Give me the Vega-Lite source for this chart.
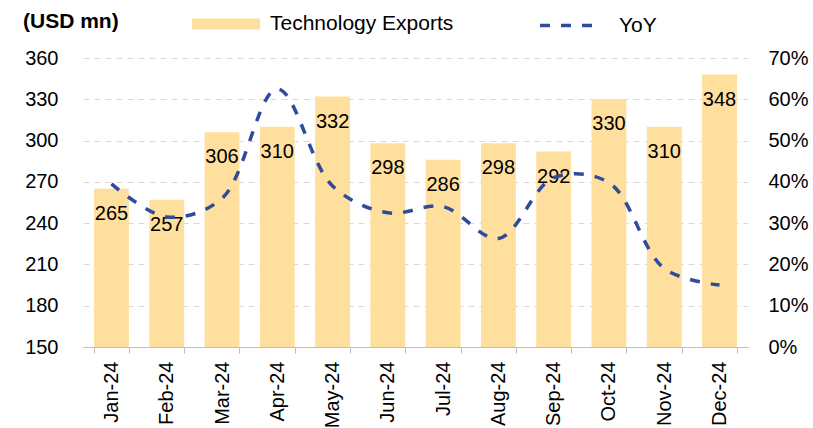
{
  "$schema": "https://vega.github.io/schema/vega-lite/v6.json",
  "width": 665,
  "height": 289,
  "autosize": {"type": "none"},
  "padding": {"left": 83, "top": 58, "right": 65, "bottom": 81},
  "background": "white",
  "config": {
    "font": "Liberation Sans",
    "view": {"stroke": null},
    "axis": {"labelFont": "Liberation Sans", "labelColor": "#000000", "labelFontSize": 20}
  },
  "title": {
    "text": "(USD mn)",
    "anchor": "start",
    "orient": "top",
    "frame": "group",
    "dx": -60,
    "offset": -42,
    "fontSize": 21,
    "fontWeight": "bold",
    "font": "Liberation Sans",
    "color": "#000000"
  },
  "data": {
    "values": [
      {"month": "Jan-24", "exports": 265, "yoy": 0.395},
      {"month": "Feb-24", "exports": 257, "yoy": 0.315},
      {"month": "Mar-24", "exports": 306, "yoy": 0.36},
      {"month": "Apr-24", "exports": 310, "yoy": 0.625},
      {"month": "May-24", "exports": 332, "yoy": 0.39},
      {"month": "Jun-24", "exports": 298, "yoy": 0.325},
      {"month": "Jul-24", "exports": 286, "yoy": 0.34},
      {"month": "Aug-24", "exports": 298, "yoy": 0.263},
      {"month": "Sep-24", "exports": 292, "yoy": 0.41},
      {"month": "Oct-24", "exports": 330, "yoy": 0.398},
      {"month": "Nov-24", "exports": 310, "yoy": 0.19},
      {"month": "Dec-24", "exports": 348, "yoy": 0.15}
    ]
  },
  "encoding": {
    "x": {
      "field": "month",
      "type": "nominal",
      "sort": null,
      "scale": {"paddingInner": 0.37, "paddingOuter": 0.2},
      "axis": {
        "title": null,
        "labelAngle": -90,
        "labelFontSize": 20,
        "labelPadding": 8,
        "labelLimit": 0,
        "tickBand": "extent",
        "tickSize": 6,
        "tickColor": "#bfbfbf",
        "domainColor": "#bfbfbf",
        "domainWidth": 1,
        "grid": false
      }
    }
  },
  "layer": [
    {
      "mark": {"type": "bar", "clip": true},
      "encoding": {
        "y": {
          "field": "exports",
          "type": "quantitative",
          "scale": {"domain": [150, 360], "zero": false, "nice": false},
          "axis": {
            "title": null,
            "values": [150, 180, 210, 240, 270, 300, 330, 360],
            "domain": false,
            "ticks": false,
            "labelPadding": 25,
            "grid": true,
            "gridColor": "#d9d9d9",
            "gridDash": [6, 5],
            "gridWidth": 1
          }
        },
        "fill": {
          "datum": "Technology Exports",
          "type": "nominal",
          "scale": {"range": ["#FFDF9E"]},
          "legend": {
            "title": null,
            "orient": "none",
            "legendX": 109,
            "legendY": -68,
            "symbolType": "M-1,-0.162H1V0.162H-1Z",
            "symbolSize": 4624,
            "symbolStrokeWidth": 0,
            "labelFontSize": 21,
            "labelFont": "Liberation Sans",
            "labelColor": "#000000",
            "labelOffset": 10,
            "labelLimit": 0
          }
        }
      }
    },
    {
      "mark": {"type": "text", "fontSize": 20, "color": "#000000", "baseline": "middle", "dy": 25},
      "encoding": {
        "y": {"field": "exports", "type": "quantitative", "scale": {"domain": [150, 360], "zero": false, "nice": false}, "axis": null},
        "text": {"field": "exports", "type": "quantitative"}
      }
    },
    {
      "mark": {"type": "line", "interpolate": "catmull-rom", "strokeWidth": 3.5, "strokeDash": [10, 11]},
      "encoding": {
        "y": {
          "field": "yoy",
          "type": "quantitative",
          "scale": {"domain": [0, 0.7], "nice": false},
          "axis": {
            "title": null,
            "orient": "right",
            "format": ".0%",
            "values": [0, 0.1, 0.2, 0.3, 0.4, 0.5, 0.6, 0.7],
            "domain": false,
            "ticks": false,
            "labelPadding": 20,
            "grid": false
          }
        },
        "stroke": {
          "datum": "YoY",
          "type": "nominal",
          "scale": {"range": ["#2F4B9C"]},
          "legend": {
            "title": null,
            "orient": "none",
            "legendX": 455,
            "legendY": -63,
            "symbolType": "stroke",
            "symbolSize": 3249,
            "symbolStrokeWidth": 3.5,
            "symbolDash": [10, 11],
            "labelFontSize": 21,
            "labelFont": "Liberation Sans",
            "labelColor": "#000000",
            "labelOffset": 20,
            "labelLimit": 0
          }
        }
      }
    }
  ],
  "resolve": {"scale": {"y": "independent", "fill": "independent", "stroke": "independent"}}
}
